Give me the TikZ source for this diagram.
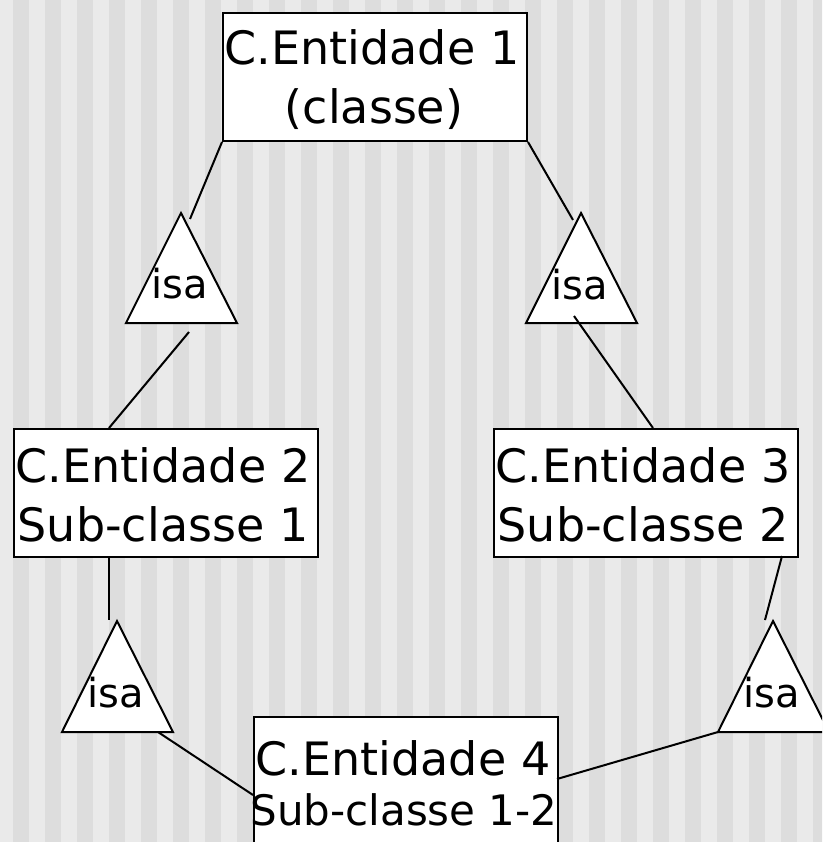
\documentclass[tikz,border=0pt]{standalone}
\usepackage{fontspec}
\setmainfont{DejaVu Sans}
\definecolor{bglight}{RGB}{234,234,234}
\definecolor{bgdark}{RGB}{221,221,221}
\begin{document}
\begin{tikzpicture}[x=1pt,y=-1pt,
  ent/.style={draw=black, line width=2pt, fill=white, minimum width=304pt,
    minimum height=128pt, inner sep=0pt, anchor=north west},
  txt/.style={anchor=base, inner sep=0pt, font=\fontsize{46}{54}\selectfont},
  txtsmall/.style={anchor=base, inner sep=0pt, font=\fontsize{42}{50}\selectfont},
  isatxt/.style={anchor=base, inner sep=0pt, font=\fontsize{40}{48}\selectfont},
  tri/.style={draw=black, line width=2pt, fill=white, line join=miter},
  conn/.style={draw=black, line width=2pt}]
\clip (0,0) rectangle (822,842);
\fill[bglight] (0,0) rectangle (822,842);
\foreach \k in {0,...,25}{
  \fill[bgdark] ({13+32*\k},0) rectangle ({29+32*\k},842);
}
% entity boxes
\node[ent] (b1) at (222,12) {};
\node[ent] (b2) at (13,428) {};
\node[ent] (b3) at (493,428) {};
\node[ent] (b4) at (253,716) {};
% triangles
\draw[tri] (181,213) -- (237,323) -- (126,323) -- cycle;
\draw[tri] (581,213) -- (637,323) -- (526,323) -- cycle;
\draw[tri] (117,621) -- (173,732) -- (62,732) -- cycle;
\draw[tri] (773,621) -- (829,732) -- (718,732) -- cycle;
% texts
\node[txt] (t1a) at (372,65) {C.Entidade 1};
\node[txt] (t1b) at (374,124) {(classe)};
\node[txt] (t2a) at (163,482) {C.Entidade 2};
\node[txt] (t2b) at (163,541) {Sub-classe 1};
\node[txt] (t3a) at (643,482) {C.Entidade 3};
\node[txt] (t3b) at (643,541) {Sub-classe 2};
\node[txt] (t4a) at (403,775) {C.Entidade 4};
\node[txtsmall] (t4b) at (404,825) {Sub-classe 1-2};
\node[isatxt] (i1) at (180,298) {isa};
\node[isatxt] (i2) at (580,299) {isa};
\node[isatxt] (i3) at (116,707) {isa};
\node[isatxt] (i4) at (772,707) {isa};
% connector ends
\coordinate (e1) at (190,219);
\coordinate (e2) at (189,332);
\coordinate (e3) at (573,220);
\coordinate (e4) at (574,316);
\coordinate (e5) at (109,620);
\coordinate (e6) at (158,732);
\coordinate (e7) at (765,620);
\coordinate (e8) at (718,732);
\coordinate (b2top) at (109,428);
\coordinate (b3top) at (653,428);
\coordinate (b2bot) at (109,556);
\coordinate (b3bot) at (782,556);
\coordinate (b4left) at (253,795);
\coordinate (b4right) at (557,779);
% connectors
\draw[conn] (b1.south west) -- (e1);
\draw[conn] (e2) -- (b2top);
\draw[conn] (b1.south east) -- (e3);
\draw[conn] (e4) -- (b3top);
\draw[conn] (b2bot) -- (e5);
\draw[conn] (e6) -- (b4left);
\draw[conn] (b3bot) -- (e7);
\draw[conn] (e8) -- (b4right);
\end{tikzpicture}
\end{document}
